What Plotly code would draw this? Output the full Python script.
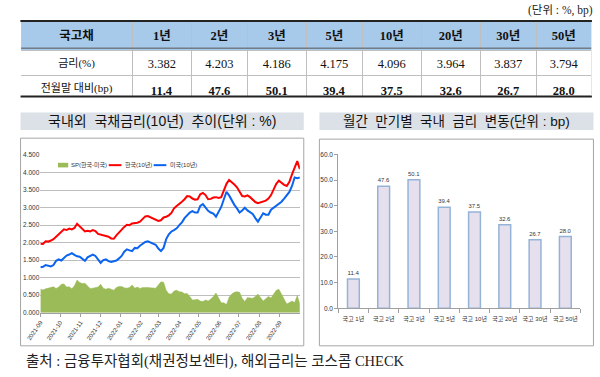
import plotly.graph_objects as go
import pandas as pd

# ---------------- data ----------------
tenors = ["1년", "2년", "3년", "5년", "10년", "20년", "30년", "50년"]
rates = [3.382, 4.203, 4.186, 4.175, 4.096, 3.964, 3.837, 3.794]
bp_change = [11.4, 47.6, 50.1, 39.4, 37.5, 32.6, 26.7, 28.0]
bar_cats = ["국고 1년", "국고 2년", "국고 3년", "국고 5년", "국고 10년", "국고 20년", "국고 30년", "국고 50년"]

dates = pd.date_range("2021-09-01", periods=100, freq="4D")
kr10 = [1.97, 1.96, 2.04, 2.03, 2.06, 2.10, 2.17, 2.25, 2.30, 2.38,
        2.36, 2.40, 2.38, 2.42, 2.54, 2.46, 2.38, 2.32, 2.34, 2.32,
        2.36, 2.33, 2.25, 2.23, 2.20, 2.19, 2.17, 2.12, 2.11, 2.21,
        2.30, 2.37, 2.45, 2.51, 2.50, 2.55, 2.55, 2.57, 2.60, 2.68,
        2.75, 2.76, 2.72, 2.68, 2.64, 2.62, 2.64, 2.72, 2.74, 2.78,
        2.85, 2.98, 3.05, 3.10, 3.17, 3.24, 3.33, 3.32, 3.26, 3.23,
        3.24, 3.38, 3.42, 3.36, 3.24, 3.25, 3.29, 3.30, 3.28, 3.30,
        3.52, 3.68, 3.79, 3.73, 3.66, 3.58, 3.44, 3.33, 3.32, 3.35,
        3.30, 3.23, 3.16, 3.13, 3.15, 3.17, 3.20, 3.26, 3.36, 3.52,
        3.68, 3.77, 3.70, 3.65, 3.62, 3.74, 3.95, 4.15, 4.33, 4.10]
us10 = [1.30, 1.31, 1.36, 1.33, 1.32, 1.36, 1.48, 1.52, 1.49, 1.56,
        1.63, 1.66, 1.70, 1.65, 1.61, 1.60, 1.55, 1.48, 1.58, 1.63,
        1.66, 1.62, 1.52, 1.42, 1.50, 1.52, 1.47, 1.45, 1.47, 1.49,
        1.55, 1.62, 1.74, 1.81, 1.78, 1.76, 1.85, 1.84, 1.91, 1.96,
        2.02, 2.04, 2.01, 1.98, 1.94, 1.83, 1.76, 1.85, 2.10, 2.24,
        2.32, 2.36, 2.41, 2.50, 2.58, 2.70, 2.78, 2.86, 2.90, 2.86,
        2.86, 3.05, 3.10, 3.00, 2.91, 2.86, 2.83, 2.74, 2.86, 3.02,
        3.24, 3.45, 3.35, 3.20, 3.08, 2.98, 2.86, 2.92, 3.00, 2.92,
        2.88, 2.82, 2.70, 2.60, 2.72, 2.84, 2.80, 2.80, 2.94, 3.00,
        3.04, 3.10, 3.17, 3.26, 3.37, 3.45, 3.62, 3.86, 3.84, 3.86]
spread = [round(k - u, 3) for k, u in zip(kr10, us10)]
month_ticks = ["2021-09", "2021-10", "2021-11", "2021-12", "2022-01", "2022-02", "2022-03",
               "2022-04", "2022-05", "2022-06", "2022-07", "2022-08", "2022-09"]
series_names = ["SP(한국-미국)", "한국(10년)", "미국(10년)"]
series_colors = ["#9BBB59", "#FF0000", "#0A64F0"]

# ---------------- helpers ----------------
W, H = 600, 377
def px(x):
    return x / W
def py(y):
    return 1 - y / H

SERIF = "Liberation Serif, Noto Sans CJK KR"
SANS = "Liberation Sans, Noto Sans CJK KR"
HDR = "#A7C9EA"

fig = go.Figure()

# ---------------- table ----------------
row0 = ["금리(%)", "전월말 대비(bp)"]
cell_vals = [row0] + [[f"{r:.3f}", f"<b>{b:.1f}</b>"] for r, b in zip(rates, bp_change)]
fig.add_trace(go.Table(
    domain=dict(x=[px(6.7), px(591.7)], y=[py(94.3), py(17.3)]),
    columnwidth=[115, 60, 58, 60, 58, 60, 61, 57, 57],
    header=dict(values=["<b>국고채</b>"] + [f"<b>{t}</b>" for t in tenors],
                fill_color=HDR, line=dict(color="#BFBFBF", width=1),
                font=dict(family=SERIF, size=12.5, color="#111"),
                height=27.7, align="center"),
    cells=dict(values=cell_vals, fill_color="white",
               line=dict(color="#BFBFBF", width=1),
               font=dict(family=SERIF, size=[11] + [12.5] * 8, color="#111"),
               height=24.6, align="center"),
))

# ---------------- line chart ----------------
fig.add_trace(go.Scatter(x=dates, y=spread, name=series_names[0], mode="lines",
                         fill="tozeroy", fillcolor=series_colors[0],
                         line=dict(color=series_colors[0], width=0.5),
                         xaxis="x", yaxis="y", showlegend=False))
fig.add_trace(go.Scatter(x=dates, y=kr10, name=series_names[1], mode="lines",
                         line=dict(color=series_colors[1], width=2), xaxis="x", yaxis="y",
                         showlegend=False))
fig.add_trace(go.Scatter(x=dates, y=us10, name=series_names[2], mode="lines",
                         line=dict(color=series_colors[2], width=2), xaxis="x", yaxis="y",
                         showlegend=False))

# ---------------- bar chart ----------------
fig.add_trace(go.Bar(x=bar_cats, y=bp_change, xaxis="x2", yaxis="y2",
                     marker=dict(color="#E6E0EE", line=dict(color="#95B3D7", width=1.5)),
                     width=0.39, text=[f"{v:.1f}" for v in bp_change],
                     textposition="outside", cliponaxis=False,
                     textfont=dict(family=SANS, size=6.5, color="#333"),
                     showlegend=False))

shapes = [
    # table heavy rules
    dict(type="line", xref="paper", yref="paper", x0=px(6.7), x1=px(591.7), y0=py(17.3), y1=py(17.3),
         line=dict(color="#222", width=2), layer="above"),
    dict(type="line", xref="paper", yref="paper", x0=px(6.7), x1=px(591.7), y0=py(94.3), y1=py(94.3),
         line=dict(color="#222", width=2), layer="above"),
    dict(type="line", xref="paper", yref="paper", x0=px(6.7), x1=px(591.7), y0=py(45), y1=py(45),
         line=dict(color="#555", width=1), layer="above"),
    dict(type="line", xref="paper", yref="paper", x0=px(6.2), x1=px(6.2), y0=py(18.5), y1=py(93.3),
         line=dict(color="white", width=2), layer="above"),
    dict(type="line", xref="paper", yref="paper", x0=px(592.2), x1=px(592.2), y0=py(18.5), y1=py(93.3),
         line=dict(color="white", width=2), layer="above"),
    # title boxes
    dict(type="rect", xref="paper", yref="paper", x0=px(6.7), x1=px(296.7), y0=py(128.3), y1=py(110.5),
         fillcolor="#DCE1E7", line=dict(width=0), layer="below"),
    dict(type="rect", xref="paper", yref="paper", x0=px(312.7), x1=px(593.3), y0=py(128.3), y1=py(110.5),
         fillcolor="#DCE1E7", line=dict(width=0), layer="below"),
    # chart frames
    dict(type="rect", xref="paper", yref="paper", x0=px(6.7), x1=px(296.7), y0=py(348.3), y1=py(136.7),
         line=dict(color="#A6A6A6", width=1), layer="below"),
    dict(type="rect", xref="paper", yref="paper", x0=px(312.7), x1=px(593.3), y0=py(348.3), y1=py(137.7),
         line=dict(color="#A6A6A6", width=1), layer="below"),
    # legend keys (left chart)
    dict(type="rect", xref="paper", yref="paper", x0=px(45), x1=px(55.5), y0=py(166.5), y1=py(161.8),
         fillcolor=series_colors[0], line=dict(width=0), layer="above"),
    dict(type="line", xref="paper", yref="paper", x0=px(97), x1=px(110), y0=py(164.2), y1=py(164.2),
         line=dict(color=series_colors[1], width=2), layer="above"),
    dict(type="line", xref="paper", yref="paper", x0=px(143), x1=px(156), y0=py(164.2), y1=py(164.2),
         line=dict(color=series_colors[2], width=2), layer="above"),
]

annotations = [
    dict(text="(단위 : %, bp)", x=px(595), y=py(7), xref="paper", yref="paper",
         xanchor="right", yanchor="middle", showarrow=False,
         font=dict(family=SERIF, size=11.5, color="#222")),
    dict(text="국내외  국채금리(10년)  추이(단위 : %)", x=px(151.7), y=py(119.5), xref="paper", yref="paper",
         xanchor="center", yanchor="middle", showarrow=False,
         font=dict(family=SANS, size=14, color="#111")),
    dict(text="월간  만기별  국내  금리  변동(단위 : bp)", x=px(453), y=py(119.5), xref="paper", yref="paper",
         xanchor="center", yanchor="middle", showarrow=False,
         font=dict(family=SANS, size=13.5, color="#111")),
    dict(text="출처 : 금융투자협회(채권정보센터), 해외금리는 코스콤 CHECK", x=px(10), y=py(364), xref="paper", yref="paper",
         xanchor="left", yanchor="middle", showarrow=False,
         font=dict(family=SERIF, size=14.5, color="#222")),
]
for name, xpos in zip(series_names, [56.5, 111.5, 157.5]):
    annotations.append(dict(text=name, x=px(xpos), y=py(164.2), xref="paper", yref="paper",
                            xanchor="left", yanchor="middle", showarrow=False,
                            font=dict(family=SANS, size=6, color="#333")))

fig.update_layout(
    width=W, height=H, margin=dict(l=0, r=0, t=0, b=0),
    paper_bgcolor="white", plot_bgcolor="white",
    shapes=shapes, annotations=annotations,
    showlegend=False,
    xaxis=dict(domain=[px(27), px(292.7)], anchor="y", type="date",
               range=["2021-09-01", "2022-10-02"],
               tickvals=[m + "-01" for m in month_ticks], ticktext=month_ticks,
               tickangle=-55, tickfont=dict(family=SANS, size=6, color="#333"),
               showline=True, linecolor="#A0A0A0", ticks="outside", ticklen=3, tickcolor="#A0A0A0",
               showgrid=False, zeroline=False),
    yaxis=dict(domain=[py(314.5), py(154)], anchor="x", range=[0, 4.5], dtick=0.5,
               tickformat=".3f", tickfont=dict(family=SANS, size=6.5, color="#333"),
               showgrid=True, gridcolor="#BEBEBE", gridwidth=1, zeroline=False, showline=False),
    xaxis2=dict(domain=[px(332), px(580)], anchor="y2", range=[-0.5, 7.5],
                tickfont=dict(family=SANS, size=6, color="#333"), tickangle=0,
                ticklabelstandoff=5,
                showline=True, linecolor="#A0A0A0", ticks="outside", tickson="boundaries",
                ticklen=4, tickcolor="#A0A0A0", showgrid=False),
    yaxis2=dict(domain=[py(310), py(153.3)], anchor="x2", range=[0, 60], dtick=10,
                tickformat=".1f", tickfont=dict(family=SANS, size=6.5, color="#333"),
                showline=True, linecolor="#A0A0A0", ticks="outside", ticklen=3, tickcolor="#A0A0A0",
                showgrid=False, zeroline=False),
)

fig.write_html("out.html", config={"displayModeBar": False},
               post_script="document.body.style.margin='0';")
